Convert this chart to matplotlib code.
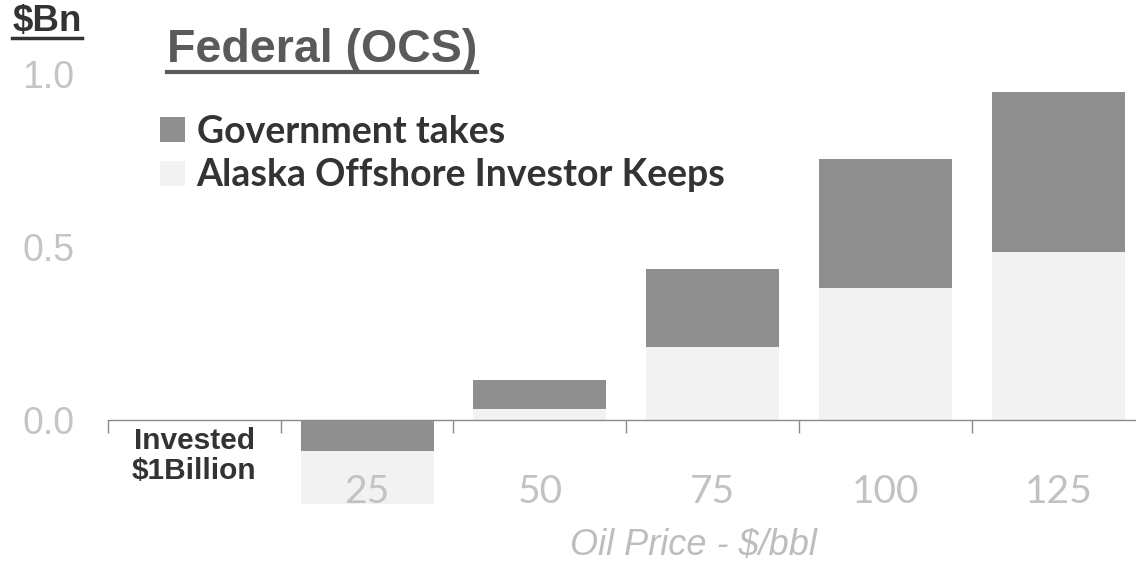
import numpy as np
import matplotlib.pyplot as plt
from matplotlib.lines import Line2D
from matplotlib.ticker import FixedLocator

# oil price scenarios, first slot is the $1Bn investment column
categories = ["", "25", "50", "75", "100", "125"]
investor_keeps = [0.0, -0.155, 0.03, 0.21, 0.38, 0.485]
government_takes = [0.0, -0.09, 0.085, 0.225, 0.375, 0.465]

DARK = "#8f8f8f"
LIGHT = "#f2f2f2"

fig = plt.figure(figsize=(11.36, 5.65), dpi=100)
ax = fig.add_axes([0.095, 0.092, 0.905, 0.807])

x = np.arange(len(categories))
inv = np.array(investor_keeps)
gov = np.array(government_takes)
# negative years: government slice sits on the axis, investor loss hangs below it
inv_bottom = np.where(inv < 0, gov, 0.0)
gov_bottom = np.where(inv < 0, 0.0, inv)

ax.bar(x, inv, 0.77, bottom=inv_bottom, color=LIGHT, label="Alaska Offshore Investor Keeps")
ax.bar(x, gov, 0.77, bottom=gov_bottom, color=DARK, label="Government takes")

ax.set_xlim(-0.5, 5.45)
ax.set_ylim(-0.27, 1.05)

for side in ["left", "right", "top"]:
    ax.spines[side].set_visible(False)
ax.spines["bottom"].set_position(("data", 0))
ax.spines["bottom"].set_color("#8a8a8a")
ax.spines["bottom"].set_linewidth(1.0)

ax.set_xticks(x)
ax.set_xticklabels(categories, fontfamily="Lato", fontsize=28, color="#c2c2c2")
ax.xaxis.set_minor_locator(FixedLocator(np.arange(-0.5, 5.0, 1.0)))
ax.tick_params(axis="x", which="major", length=0, pad=39)
ax.tick_params(axis="x", which="minor", length=9, width=1.0, color="#8a8a8a", direction="out")

ax.set_yticks([0.0, 0.5, 1.0])
ax.set_yticklabels(["0.0", "0.5", "1.0"], fontfamily="Liberation Sans", fontsize=27, color="#c4c4c4")
ax.tick_params(axis="y", length=0, pad=24)

ax.text(0, -0.105, "Invested\n$1Billion", ha="center", va="center", fontfamily="Liberation Sans",
        fontweight="bold", fontsize=21.5, color="#333333", linespacing=1.05)

fig.text(0.61, 0.034, "Oil Price - $/bbl", ha="center", va="center", fontfamily="Liberation Sans",
         fontstyle="italic", fontsize=26, color="#bdbdbd")

handles, labels = ax.get_legend_handles_labels()
leg = ax.legend(handles[::-1], labels[::-1], loc="upper left", bbox_to_anchor=(0.141, 0.797),
                bbox_transform=fig.transFigure, frameon=False,
                prop={"family": "Lato", "weight": "bold", "size": 27},
                handlelength=0.67, handleheight=0.67, handletextpad=0.3,
                labelspacing=0.26, borderaxespad=0, borderpad=0)
for t in leg.get_texts():
    t.set_color("#333333")

title = fig.text(0.147, 0.911, "Federal (OCS)", ha="left", va="center", fontfamily="Liberation Sans",
                 fontweight="bold", fontsize=33.5, color="#5a5a5a")
unit = fig.text(0.011, 0.962, "$Bn", ha="left", va="center", fontfamily="Liberation Sans",
                fontweight="bold", fontsize=26.5, color="#333333")

# underline the heading texts
fig.canvas.draw()
renderer = fig.canvas.get_renderer()
inv_fig = fig.transFigure.inverted()
for txt, lw, gap in [(title, 3.0, 0), (unit, 2.5, -1)]:
    bb = txt.get_window_extent(renderer)
    (x0, y0), (x1, _) = inv_fig.transform([(bb.x0, bb.y0 - gap), (bb.x1, bb.y0 - gap)])
    fig.add_artist(Line2D([x0, x1], [y0, y0], transform=fig.transFigure,
                          color=txt.get_color(), linewidth=lw))

fig.savefig("out.png", dpi=100)
